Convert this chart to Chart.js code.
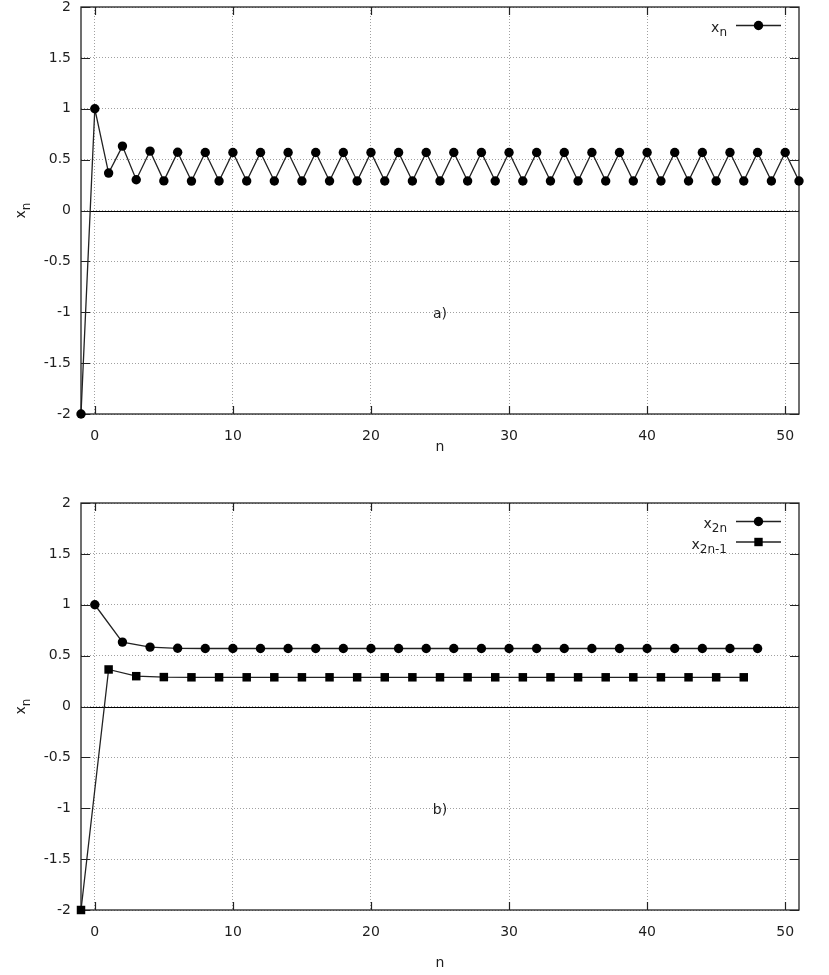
<!DOCTYPE html>
<html><head><meta charset="utf-8">
<script src="https://cdn.jsdelivr.net/npm/chart.js@4.4.1/dist/chart.umd.min.js"></script>
<style>
html,body{margin:0;padding:0;background:#fff;}
#wrap{position:relative;width:829px;height:975px;overflow:hidden;}
.box{position:absolute;left:0;width:829px;}
canvas{display:block;}
</style></head><body>
<div id="wrap">
<div class="box" style="top:0;height:496px"><canvas id="ca" width="829" height="496"></canvas></div>
<div class="box" style="top:496px;height:479px"><canvas id="cb" width="829" height="479"></canvas></div>
</div>
<script>
// ---- data ----
const nA = [-1,0,1,2,3,4,5,6,7,8,9,10,11,12,13,14,15,16,17,18,19,20,21,22,23,24,25,26,27,28,29,30,31,32,33,34,35,36,37,38,39,40,41,42,43,44,45,46,47,48,49,50,51];
const xA = [-2,1,0.368,0.633,0.302,0.584,0.291,0.572,0.289,0.57,0.29,0.57,0.29,0.57,0.29,0.57,0.29,0.57,0.29,0.57,0.29,0.57,0.29,0.57,0.29,0.57,0.29,0.57,0.29,0.57,0.29,0.57,0.29,0.57,0.29,0.57,0.29,0.57,0.29,0.57,0.29,0.57,0.29,0.57,0.29,0.57,0.29,0.57,0.29,0.57,0.29,0.57,0.29];
const nEven = [0,2,4,6,8,10,12,14,16,18,20,22,24,26,28,30,32,34,36,38,40,42,44,46,48];
const xEven = [1,0.633,0.584,0.572,0.57,0.57,0.57,0.57,0.57,0.57,0.57,0.57,0.57,0.57,0.57,0.57,0.57,0.57,0.57,0.57,0.57,0.57,0.57,0.57,0.57];
const nOdd = [-1,1,3,5,7,9,11,13,15,17,19,21,23,25,27,29,31,33,35,37,39,41,43,45,47];
const xOdd = [-2,0.364,0.298,0.289,0.287,0.287,0.287,0.287,0.287,0.287,0.287,0.287,0.287,0.287,0.287,0.287,0.287,0.287,0.287,0.287,0.287,0.287,0.287,0.287,0.287];
const xTicks = [0,10,20,30,40,50];
const yTicks = [-2,-1.5,-1,-0.5,0,0.5,1,1.5,2];
const xRange = [-1,51];
const yRange = [-2,2];
const xTitle = 'n';
const yTitle = {main:'x', sub:'n'};
const panelLabels = ['a)','b)'];
const panelLabelPos = [25,-1.02];
const legendA = [{main:'x', sub:'n', style:'circle'}];
const legendB = [{main:'x', sub:'2n', style:'circle'},{main:'x', sub:'2n-1', style:'rect'}];

const FONT = 'DejaVu Sans';
const INK = '#1e1e1e';

function pts(ns, vs){ return ns.map((n,i)=>({x:n,y:vs[i]})); }

function drawMarker(ctx, style, x, y){
  ctx.fillStyle = '#000';
  ctx.beginPath();
  if(style==='rect'){ ctx.rect(x-4.2,y-4.2,8.4,8.4); }
  else { ctx.arc(x,y,4.7,0,Math.PI*2); }
  ctx.fill();
}

const decor = {
  id:'decor',
  beforeDatasetsDraw(chart){
    const {ctx, chartArea:a, scales:{x,y}} = chart;
    ctx.save();
    ctx.strokeStyle = '#000'; ctx.lineWidth = 1.2;
    const y0 = Math.round(y.getPixelForValue(0))+0.5;
    ctx.beginPath(); ctx.moveTo(a.left,y0); ctx.lineTo(a.right,y0); ctx.stroke();
    ctx.strokeStyle = '#222'; ctx.lineWidth = 1.3;
    ctx.strokeRect(a.left, a.top, a.right-a.left, a.bottom-a.top);
    ctx.lineWidth = 1.2;
    ctx.beginPath();
    xTicks.forEach(v=>{
      const px = Math.round(x.getPixelForValue(v))+0.5;
      ctx.moveTo(px,a.bottom); ctx.lineTo(px,a.bottom-8);
      ctx.moveTo(px,a.top); ctx.lineTo(px,a.top+8);
    });
    yTicks.forEach(v=>{
      const py = Math.round(y.getPixelForValue(v))+0.5;
      ctx.moveTo(a.left,py); ctx.lineTo(a.left+9,py);
      ctx.moveTo(a.right,py); ctx.lineTo(a.right-9,py);
    });
    ctx.stroke();
    ctx.restore();
  },
  afterDraw(chart, args, opts){
    const {ctx, chartArea:a, scales:{x,y}} = chart;
    ctx.save();
    ctx.fillStyle = INK;
    ctx.translate(22, (a.top+a.bottom)/2);
    ctx.rotate(-Math.PI/2);
    ctx.font = '14px "'+FONT+'"';
    const wm = ctx.measureText(yTitle.main).width;
    ctx.font = '12px "'+FONT+'"';
    const ws = ctx.measureText(yTitle.sub).width;
    const x0 = -(wm+ws)/2;
    ctx.textBaseline = 'alphabetic';
    ctx.font = '14px "'+FONT+'"';
    ctx.fillText(yTitle.main, x0, 3);
    ctx.font = '12px "'+FONT+'"';
    ctx.fillText(yTitle.sub, x0+wm, 8);
    ctx.restore();
    ctx.save();
    ctx.fillStyle = INK;
    ctx.font = '14px "'+FONT+'"';
    ctx.textAlign = 'center'; ctx.textBaseline = 'middle';
    ctx.fillText(opts.label, x.getPixelForValue(panelLabelPos[0]), y.getPixelForValue(panelLabelPos[1]));
    ctx.restore();
    ctx.save();
    opts.legend.forEach((e,i)=>{
      const ly = a.top + 18 + i*20.5;
      ctx.font = '12px "'+FONT+'"';
      const ws2 = ctx.measureText(e.sub).width;
      ctx.font = '14px "'+FONT+'"';
      const wm2 = ctx.measureText(e.main).width;
      const right = 727;
      ctx.fillStyle = INK;
      ctx.textBaseline = 'alphabetic';
      ctx.fillText(e.main, right-ws2-wm2, ly+7);
      ctx.font = '12px "'+FONT+'"';
      ctx.fillText(e.sub, right-ws2, ly+11);
      ctx.strokeStyle = '#222'; ctx.lineWidth = 1.3;
      ctx.beginPath(); ctx.moveTo(736,ly+0.5); ctx.lineTo(781,ly+0.5); ctx.stroke();
      drawMarker(ctx, e.style, 758.5, ly+0.5);
    });
    ctx.restore();
  }
};

function makeChart(id, H, datasets, label, legend, titlePadBottom){
  return new Chart(document.getElementById(id), {
    type:'line',
    data:{datasets},
    options:{
      responsive:false,
      animation:false,
      layout:{padding:{top:7,right:30,left:0,bottom:0}},
      plugins:{legend:{display:false}, tooltip:{enabled:false}, decor:{label, legend}},
      elements:{line:{tension:0}},
      scales:{
        x:{
          type:'linear', min:xRange[0], max:xRange[1],
          afterBuildTicks(s){ s.ticks = xTicks.map(v=>({value:v})); },
          afterFit(s){ s.height = H-7-407; s.paddingLeft=0; s.paddingRight=0; },
          grid:{color:'#a0a0a0', lineWidth:1, drawTicks:false},
          border:{display:false, dash:[1,2]},
          ticks:{padding:14, color:INK, font:{family:FONT,size:14}, maxRotation:0, callback:v=>String(v)},
          title:{display:true, text:xTitle, color:INK, font:{family:FONT,size:14}, padding:{top:0,bottom:titlePadBottom}}
        },
        y:{
          type:'linear', min:yRange[0], max:yRange[1],
          afterBuildTicks(s){ s.ticks = yTicks.map(v=>({value:v})); },
          afterFit(s){ s.width = 81; s.paddingTop=0; s.paddingBottom=0; },
          grid:{color:'#a0a0a0', lineWidth:1, drawTicks:false},
          border:{display:false, dash:[1,2]},
          ticks:{padding:10, color:INK, font:{family:FONT,size:14}, callback:v=>String(v)}
        }
      }
    },
    plugins:[decor]
  });
}

const lineStyle = {borderColor:'#222', borderWidth:1.3, pointBackgroundColor:'#000', pointBorderColor:'#000', pointBorderWidth:0, clip:false, fill:false};

makeChart('ca', 496, [
  Object.assign({label:'xn', data:pts(nA,xA), pointStyle:'circle', pointRadius:4.7, pointHoverRadius:4.7}, lineStyle)
], panelLabels[0], legendA, 40.6);

makeChart('cb', 479, [
  Object.assign({label:'x2n', data:pts(nEven,xEven), pointStyle:'circle', pointRadius:4.7, pointHoverRadius:4.7}, lineStyle),
  Object.assign({label:'x2n-1', data:pts(nOdd,xOdd), pointStyle:'rect', pointRadius:6, pointHoverRadius:6}, lineStyle)
], panelLabels[1], legendB, 3.6);
</script>
</body></html>
